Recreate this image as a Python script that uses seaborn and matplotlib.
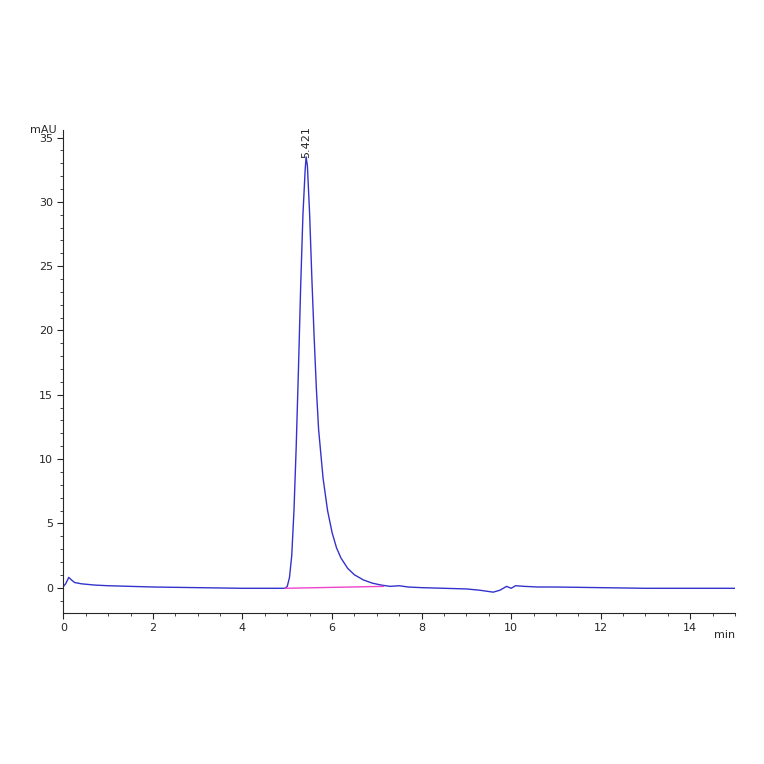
import numpy as np
import pandas as pd
import seaborn as sns
from matplotlib import pyplot as plt
from matplotlib.ticker import MultipleLocator

# chromatogram points (min, mAU)
times = [0.0, 0.05, 0.12, 0.18, 0.25, 0.4, 0.7, 1.0, 1.5, 2.0, 3.0, 4.0, 4.8, 4.95, 5.0,
         5.05, 5.1, 5.15, 5.2, 5.25, 5.3, 5.35, 5.4, 5.421, 5.45, 5.5, 5.55, 5.6, 5.65,
         5.7, 5.8, 5.9, 6.0, 6.1, 6.2, 6.35, 6.5, 6.7, 6.9, 7.1, 7.3, 7.5, 7.7, 8.0,
         8.5, 9.0, 9.3, 9.6, 9.75, 9.9, 10.0, 10.1, 10.3, 10.6, 11.0, 12.0, 13.0, 14.0, 15.0]
signal = [0.1, 0.3, 0.8, 0.6, 0.4, 0.3, 0.2, 0.15, 0.1, 0.05, 0.0, -0.05, -0.05, -0.05, 0.1,
          0.8, 2.5, 6.0, 11.0, 17.0, 23.5, 29.0, 32.5, 33.5, 32.8, 29.0, 24.0, 19.5, 15.5,
          12.3, 8.5, 6.0, 4.3, 3.1, 2.3, 1.5, 1.0, 0.6, 0.35, 0.2, 0.1, 0.15, 0.05, 0.0,
          -0.05, -0.1, -0.2, -0.35, -0.2, 0.1, -0.05, 0.15, 0.1, 0.05, 0.05, 0.0, -0.05, -0.05, -0.05]
peak_time = 5.421
base_t = [4.95, 7.15]
base_y = [-0.05, 0.1]

df = pd.DataFrame({'t': times, 'mAU': signal})

sns.set_style('ticks')
fig, ax = plt.subplots(figsize=(7.64, 7.64), dpi=100)
fig.subplots_adjust(left=0.083, right=0.962, bottom=0.198, top=0.83)

sns.lineplot(data=df, x='t', y='mAU', color='#3333cc', lw=1, ax=ax)
ax.plot(base_t, base_y, color='#ee44cc', lw=1)
ax.text(peak_time, 33.4, f'{peak_time:.3f}', rotation=90, ha='center', va='bottom', fontsize=8)

ax.set_xlim(0, 15)
ax.set_ylim(-1.95, 35.6)
ax.xaxis.set_major_locator(MultipleLocator(2))
ax.xaxis.set_minor_locator(MultipleLocator(0.5))
ax.yaxis.set_major_locator(MultipleLocator(5))
ax.yaxis.set_minor_locator(MultipleLocator(1))
ax.tick_params(labelsize=8, length=4)
ax.tick_params(which='minor', length=2)
ax.set_xlabel('')
ax.set_ylabel('')
ax.text(-0.01, 35.6, 'mAU', ha='right', va='center', fontsize=8, transform=ax.get_yaxis_transform())
ax.text(1.0, -0.035, 'min', ha='right', va='top', fontsize=8, transform=ax.transAxes)
ax.set_xticks([0, 2, 4, 6, 8, 10, 12, 14])
sns.despine(ax=ax)

fig.savefig('out.png', dpi=100)
